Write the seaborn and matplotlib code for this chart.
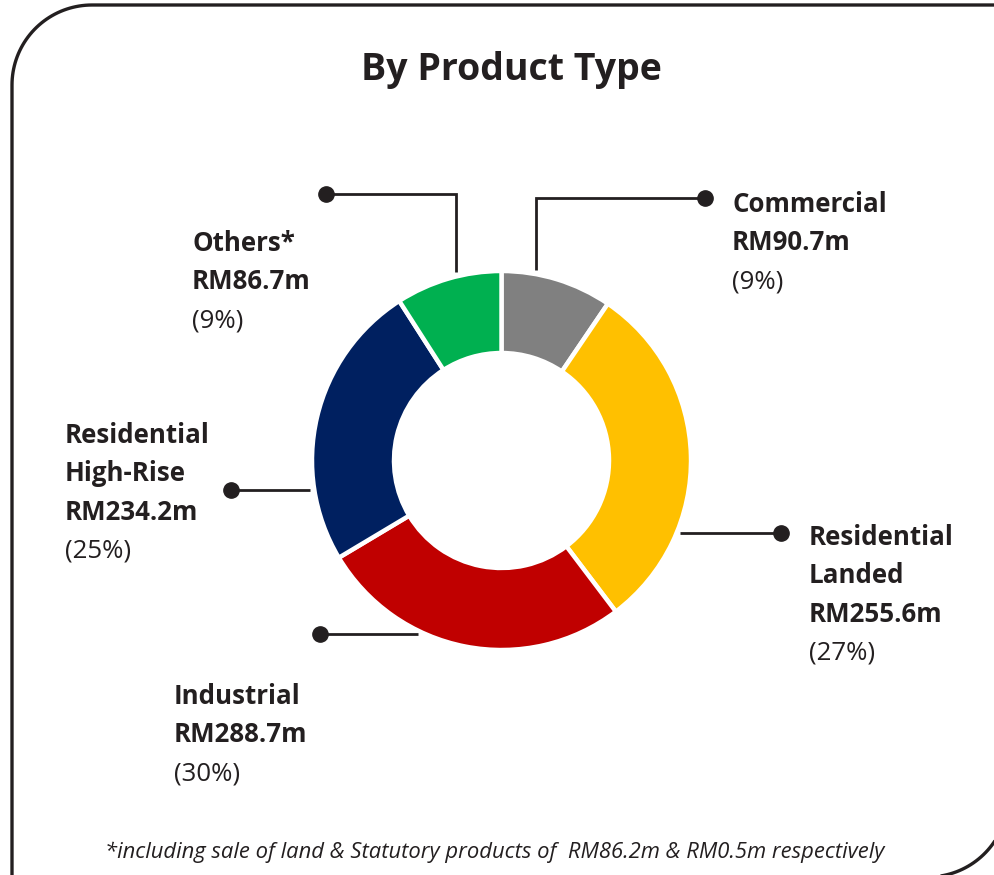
import numpy as np
import matplotlib
matplotlib.use("Agg")
import matplotlib.pyplot as plt
from matplotlib.path import Path
from matplotlib.patches import PathPatch
import seaborn as sns

# ---- data ----
categories = ["Commercial", "Residential Landed", "Industrial", "Residential High-Rise", "Others*"]
amounts = [90.7, 255.6, 288.7, 234.2, 86.7]
# slice sizes as drawn in the reference (yellow slice ~30%, red slice ~27%)
wedge_values = [90.7, 288.7, 255.6, 234.2, 86.7]
percent_labels = ["(9%)", "(27%)", "(30%)", "(25%)", "(9%)"]
amount_labels = ["RM90.7m", "RM255.6m", "RM288.7m", "RM234.2m", "RM86.7m"]
name_lines = [["Commercial"], ["Residential", "Landed"], ["Industrial"],
              ["Residential", "High-Rise"], ["Others*"]]
colors = ["#808080", "#FFC000", "#C00000", "#002060", "#00B050"]
title = "By Product Type"
footnote = "*including sale of land & Statutory products of  RM86.2m & RM0.5m respectively"

sns.set_theme(style="white")
FONT = ["Open Sans", "DejaVu Sans"]
plt.rcParams["font.family"] = FONT
TXT = "#231F20"

W, H = 994, 875
fig = plt.figure(figsize=(W / 100, H / 100), dpi=100)
ax = fig.add_axes([0, 0, 1, 1])

def Y(y):
    return H - y

def arc(cx, cy, r, a0, a1, n=40):
    t = np.radians(np.linspace(a0, a1, n))
    return list(zip(cx + r * np.cos(t), Y(cy) + r * np.sin(t)))

# ---- donut ----
cx, cy, rad = 501.5, 460.5, 189.5
ax.pie(wedge_values, colors=colors, startangle=90, counterclock=False,
       center=(cx, Y(cy)), radius=rad, frame=True,
       wedgeprops=dict(width=rad - 107.5, edgecolor="white", linewidth=3.2))
ax.set_xlim(0, W)
ax.set_ylim(0, H)
ax.set_aspect("equal")
ax.axis("off")

# ---- border (rounded top-left and bottom-right) ----
R = 80
L, T, Rt, B = 12, 5, 1010, 877
pts = [(L, Y(B + 20)), (L, Y(T + R))] + arc(L + R, T + R, R, 180, 90) + [(Rt + 20, Y(T))]
ax.add_patch(PathPatch(Path(pts), fill=False, lw=2.4, ec=TXT, capstyle="butt"))
cx_br, cy_br = 928, B - R
pts2 = [(Rt + 20, Y(cy_br))] + arc(cx_br, cy_br, R, 0, -90) + [(L, Y(B))]
ax.add_patch(PathPatch(Path(pts2), fill=False, lw=2.4, ec=TXT))

# ---- leader lines (pixel layout) ----
leaders = [
    [(536, 270), (536, 198), (705, 198)],
    [(680, 533), (781, 533)],
    [(418, 634), (320, 634)],
    [(310, 490), (231, 490)],
    [(456, 272), (456, 194), (326, 194)],
]
for seg in leaders:
    xs = [p[0] for p in seg]
    ys = [Y(p[1]) for p in seg]
    ax.plot(xs, ys, color=TXT, lw=2.0, solid_capstyle="butt", solid_joinstyle="miter")
    ax.plot(xs[-1], ys[-1], "o", ms=11, color=TXT)

# ---- labels ----
label_pos = [(732, 212), (809, 545), (174, 704), (65, 443), (192, 251)]
LS = 38.3
FS = 18.6
for i, (x, yb) in enumerate(label_pos):
    lines = name_lines[i] + [amount_labels[i]]
    k = 0
    for ln in lines:
        ax.text(x, Y(yb + k * LS), ln, fontsize=FS, fontweight="bold",
                color=TXT, ha="left", va="baseline")
        k += 1
    ax.text(x, Y(yb + k * LS), percent_labels[i], fontsize=FS,
            color=TXT, ha="left", va="baseline")

ax.text(511, Y(80), title, fontsize=27, fontweight="bold", color=TXT,
        ha="center", va="baseline")
ax.text(494.5, Y(858), footnote, fontsize=15.8, style="italic", color=TXT,
        ha="center", va="baseline")

fig.savefig("out.png", dpi=100, facecolor="white")
